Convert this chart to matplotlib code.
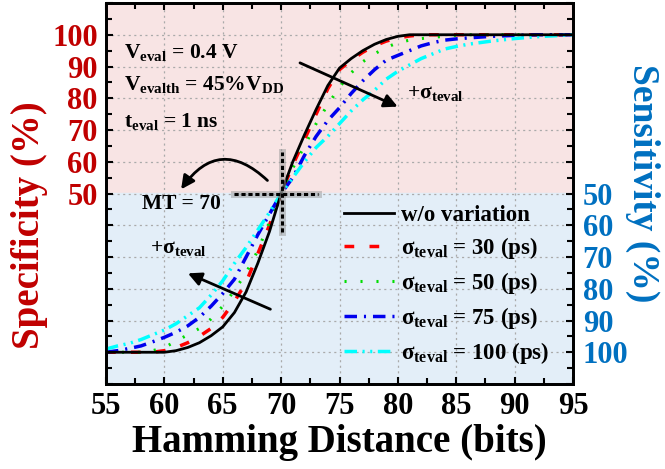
import numpy as np
import matplotlib
matplotlib.use('Agg')
import matplotlib.pyplot as plt
from matplotlib.ticker import MultipleLocator

plt.rcParams['font.family'] = 'Liberation Serif'
plt.rcParams['font.weight'] = 'bold'
plt.rcParams['axes.labelweight'] = 'bold'
plt.rcParams['mathtext.fontset'] = 'custom'
plt.rcParams['mathtext.rm'] = 'Liberation Serif:bold'
plt.rcParams['mathtext.it'] = 'Liberation Serif:bold'
plt.rcParams['mathtext.bf'] = 'Liberation Serif:bold'
plt.rcParams['lines.scale_dashes'] = False

# hamming distance (bits)
hd = [55, 56, 57, 58, 59, 60, 61, 62, 63, 64, 65, 66, 67, 68, 69, 70,
      71, 72, 73, 74, 75, 76, 77, 78, 79, 80, 81, 82, 83, 84, 85, 86,
      88, 90, 92, 95]
# plotted value: lower half = 100 - sensitivity, upper half = specificity
no_var = [0, 0, 0, 0, 0, 0, 0.5, 1.5, 3, 5.2, 8, 12.5, 19, 28, 38, 50,
          60, 68.5, 76.5, 84, 89.5, 92.5, 95, 97, 98.5, 99.5, 100, 100, 100, 100, 100, 100,
          100, 100, 100, 100]
s30 = [0, 0, 0, 0, 0, 0.5, 1.5, 3, 5, 7.5, 11, 16, 22, 31, 40, 50,
       59, 67, 75, 83, 89, 92, 94.5, 96.5, 98, 99, 99.6, 100, 100, 100, 100, 100,
       100, 100, 100, 100]
s50 = [0, 0, 0, 0, 0.5, 1.5, 3.5, 5.5, 7.5, 10.5, 14.5, 19.5, 25, 32, 41, 50,
       58, 65, 72, 78, 83.5, 88, 91.5, 94, 96, 97.5, 98.3, 98.8, 99.2, 99.5, 99.8, 100,
       100, 100, 100, 100]
s75 = [0, 0.5, 1.2, 2, 3.3, 4.7, 6.3, 8.3, 11, 14.5, 18.5, 23, 30, 37, 43.5, 50,
       55, 62, 68, 73, 77, 81.5, 85.5, 89, 92, 93.5, 95, 96.5, 97.5, 98.3, 98.7, 99,
       99.5, 99.8, 100, 100]
s100 = [1, 2, 2.8, 4, 5.5, 7, 9, 11.5, 14, 18, 22.5, 28, 33, 38.5, 44, 50,
        55, 60, 64.5, 68, 72, 76, 79.5, 82.5, 86, 88.5, 90.5, 92.5, 94, 95.5, 96.3, 97,
        98, 98.8, 99.4, 100]

spec_labels = ['50', '60', '70', '80', '90', '100']
sens_labels = ['50', '60', '70', '80', '90', '100']

red = '#C00000'
blue = '#0070C0'

fig = plt.figure(figsize=(6.65, 4.69), dpi=100)
ax = fig.add_axes([106 / 665, 1 - 384 / 469, 467 / 665, 381 / 469])
ax.set_xlim(55, 95)
ax.set_ylim(-10, 110)

ax.axhspan(50, 110, color='#F8E4E4', zorder=0)
ax.axhspan(-10, 50, color='#E3EEF8', zorder=0)

ax.grid(True, color='#aaaaaa', linestyle=(0, (1.5, 2.5)), linewidth=0.9, zorder=1)
ax.set_axisbelow(True)

ax.plot(hd, no_var, color='black', lw=2, label='w/o variation', zorder=5)
ax.plot(hd, s30, color='red', lw=2.5, ls=(0, (7, 11)), label='σ$_{\\mathrm{teval}}$ = 30 (ps)', zorder=4)
ax.plot(hd, s50, color='#00DD00', lw=2.2, ls=(0, (1.5, 10)), label='σ$_{\\mathrm{teval}}$ = 50 (ps)', zorder=4)
ax.plot(hd, s75, color='#0000EE', lw=2.5, ls=(0, (9, 5, 1.5, 5)), label='σ$_{\\mathrm{teval}}$ = 75 (ps)', zorder=4)
ax.plot(hd, s100, color='cyan', lw=2.5, ls=(0, (9, 4, 1.5, 4, 1.5, 4)), label='σ$_{\\mathrm{teval}}$ = 100 (ps)', zorder=4)

# crosshair at MT = 70
ax.plot([66, 73.2], [50, 50], color='#999999', lw=5, alpha=0.5, zorder=6)
ax.plot([70.1, 70.1], [38, 63.2], color='#999999', lw=5, alpha=0.5, zorder=6)
ax.plot([66, 73.2], [50, 50], color='black', lw=2.2, ls=(0, (3, 2)), zorder=6)
ax.plot([70.1, 70.1], [38, 63.2], color='black', lw=2.2, ls=(0, (3, 2)), zorder=6)

arrow = dict(arrowstyle='-|>,head_length=0.8,head_width=0.4', color='black', lw=2)
ax.annotate('', xy=(80.2, 77), xytext=(71.4, 91.5), arrowprops=arrow, zorder=7)
ax.annotate('', xy=(61.8, 25.2), xytext=(69.3, 13.2), arrowprops=arrow, zorder=7)
ax.annotate('', xy=(61.3, 50.6), xytext=(69.0, 53.5),
            arrowprops=dict(arrowstyle='-|>,head_length=0.8,head_width=0.4', color='black', lw=2,
                            connectionstyle='arc3,rad=0.6'), zorder=7)

fs_txt = 15.5
ax.text(56.5, 92.8, 'V$_{\\mathrm{eval}}$ = 0.4 V', fontsize=fs_txt, va='baseline')
ax.text(56.5, 82.7, 'V$_{\\mathrm{evalth}}$ = 45%V$_{\\mathrm{DD}}$', fontsize=fs_txt, va='baseline')
ax.text(56.5, 71.0, 't$_{\\mathrm{eval}}$ = 1 ns', fontsize=fs_txt, va='baseline')
ax.text(58.1, 45.0, 'MT = 70', fontsize=fs_txt, va='baseline')
ax.text(80.8, 80.2, '+σ$_{\\mathrm{teval}}$', fontsize=fs_txt, va='baseline')
ax.text(58.8, 31.4, '+σ$_{\\mathrm{teval}}$', fontsize=fs_txt, va='baseline')

leg = ax.legend(loc='upper left', bbox_to_anchor=(0.49, 0.495), frameon=False, fontsize=16.5,
                handlelength=2.2, handletextpad=0.3, labelspacing=0.4, borderaxespad=0)

# ticks
ax.xaxis.set_major_locator(MultipleLocator(5))
ax.xaxis.set_minor_locator(MultipleLocator(2.5))
ax.set_yticks(np.arange(-10, 111, 10))
ax.yaxis.set_minor_locator(MultipleLocator(5))
left_lab = []
for v in np.arange(-10, 111, 10):
    left_lab.append(spec_labels[(v - 50) // 10] if 50 <= v <= 100 else '')
ax.set_yticklabels(left_lab, color=red, fontsize=22)
ax.tick_params(axis='both', which='both', direction='in', top=True, right=False, width=1.5)
ax.tick_params(axis='both', which='major', length=5)
ax.tick_params(axis='both', which='minor', length=4)
ax.tick_params(axis='x', labelsize=22, pad=6)
ax.tick_params(axis='y', pad=6)
for s in ax.spines.values():
    s.set_linewidth(2)

ax2 = ax.twinx()
ax2.set_ylim(-10, 110)
ax2.set_yticks(np.arange(-10, 111, 10))
ax2.yaxis.set_minor_locator(MultipleLocator(5))
right_lab = []
for v in np.arange(-10, 111, 10):
    right_lab.append(sens_labels[(50 - v) // 10] if 0 <= v <= 50 else '')
ax2.set_yticklabels(right_lab, color=blue, fontsize=22)
ax2.tick_params(axis='y', which='both', direction='in', width=1.5, pad=7)
ax2.tick_params(axis='y', which='major', length=5)
ax2.tick_params(axis='y', which='minor', length=4)
for s in ax2.spines.values():
    s.set_linewidth(2)

ax.set_xlabel('Hamming Distance (bits)', fontsize=28, fontweight='bold', labelpad=2)
fig.text(30 / 665, 1 - 225 / 469, 'Specificity (%)', rotation=90, color=red, fontsize=28,
         ha='center', va='center')
fig.text(643 / 665, 1 - 183 / 469, 'Sensitivity (%)', rotation=270, color=blue, fontsize=27,
         ha='center', va='center')

fig.savefig('out.png', dpi=100)
